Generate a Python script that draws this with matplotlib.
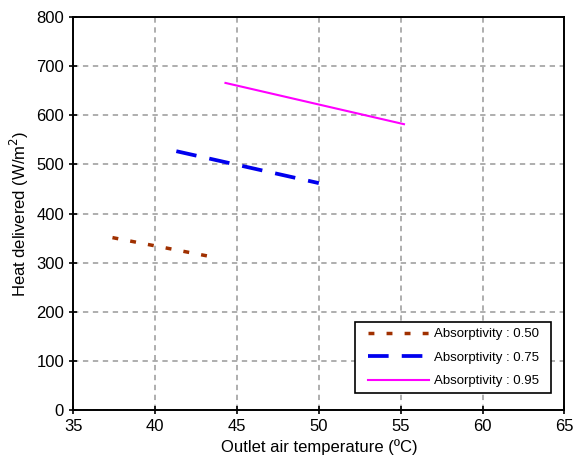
import matplotlib
matplotlib.use("Agg")
import matplotlib.pyplot as plt
from matplotlib.path import Path

plt.rcParams['font.family'] = ['Liberation Sans', 'DejaVu Sans']

# Heat delivered vs outlet air temperature for three absorptivities
t_050 = [37.4, 43.3]
q_050 = [351, 313]
t_075 = [41.3, 50.0]
q_075 = [527, 462]
t_095 = [44.3, 55.2]
q_095 = [666, 582]

labels = ['Absorptivity : 0.50', 'Absorptivity : 0.75', 'Absorptivity : 0.95']

fig = plt.figure(figsize=(5.76, 4.63), dpi=100)
ax = fig.add_axes([0.127, 0.1145, 0.853, 0.8485])

ax.plot(t_050, q_050, color='#a03000', lw=2.5, linestyle=(0, (1.7, 3.5)), label=labels[0])
ax.plot(t_075, q_075, color='#0000ee', lw=2.7, linestyle=(0, (5.5, 3.5)), label=labels[1])
ax.plot(t_095, q_095, color='#ff00ff', lw=1.5, linestyle='-', label=labels[2])

ax.set_xlim(35, 65)
ax.set_ylim(0, 800)
ax.set_xticks(range(35, 66, 5))
ax.set_yticks(range(0, 801, 100))
ax.grid(True, color='#999999', linestyle=(0, (3.5, 3)), linewidth=1.1)
ax.set_axisbelow(True)
for s in ax.spines.values():
    s.set_linewidth(1.4)
ax.tick_params(direction='inout', length=6, width=1.2, labelsize=12)

ax.set_xlabel('Outlet air temperature (ºC)', fontsize=12, labelpad=4)
ax.set_ylabel('Heat delivered (W/m$^2$)', fontsize=12, labelpad=4)

leg = ax.legend(loc='lower right', fontsize=9.5, fancybox=False, edgecolor='black',
                framealpha=1, handlelength=4.6, borderpad=0.45, labelspacing=0.85,
                handletextpad=0.4, borderaxespad=0, bbox_to_anchor=(0.96, 0.043))


def wide_box(x0, y0, width, height, mutation_size):
    # square frame with extra horizontal padding
    px = 0.5 * mutation_size
    x1 = x0 + width + px
    x0 = x0 - px
    y1 = y0 + height
    return Path([(x0, y0), (x1, y0), (x1, y1), (x0, y1), (x0, y0)],
                [Path.MOVETO, Path.LINETO, Path.LINETO, Path.LINETO, Path.CLOSEPOLY])


leg.get_frame().set_boxstyle(wide_box)
leg.get_frame().set_linewidth(1.2)

fig.savefig('out.png', dpi=100)
